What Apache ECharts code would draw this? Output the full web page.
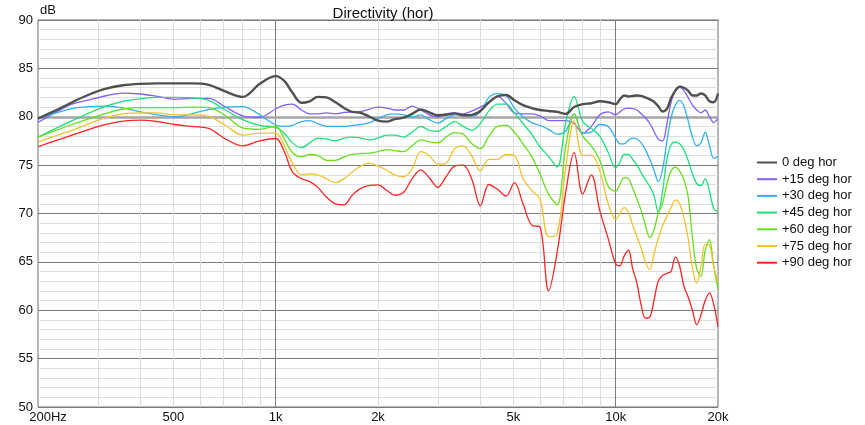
<!DOCTYPE html>
<html><head><meta charset="utf-8">
<script src="https://cdn.jsdelivr.net/npm/echarts@6/dist/echarts.min.js"></script>
<style>html,body{margin:0;padding:0;background:#fff}#c{width:865px;height:425px}</style>
</head><body><div id="c"></div>
<script>
// Frequencies (Hz)
const freqs = [
  200,224,252,283,317,356,400,449,504,566,635,713,800,898,
  1000,1060,1120,1190,1260,1330,1410,1500,1590,1680,1780,1890,2000,2120,2240,2380,2520,2670,2830,3000,3170,3360,3560,3780,4000,4240,4490,4760,5040,5340,5660,5990,6350,6730,7130,7550,8000,8480,8980,9510,
  10000,10290,10590,10910,11220,11550,11890,12230,12600,12960,13340,13730,14140,14550,14980,15420,15870,16330,16820,17310,17820,18340,18880,19430,20000
];
const seriesNames = ['0 deg hor','+15 deg hor','+30 deg hor','+45 deg hor','+60 deg hor','+75 deg hor','+90 deg hor'];
const deg0 = [79.8,80.6,81.5,82.3,82.9,83.25,83.4,83.45,83.45,83.45,83.3,82.6,82.05,83.4,
  84.2,83.7,82.5,81.45,81.6,82.05,82.0,81.5,80.9,80.5,80.4,80.0,79.6,79.5,79.75,79.9,80.3,80.75,80.45,80.15,80.2,80.35,80.15,80.2,80.6,81.5,82.1,82.25,81.7,81.2,80.9,80.7,80.6,80.5,80.3,81.0,81.3,81.4,81.6,81.5,
  81.3,81.8,82.2,82.1,82.15,82.2,82.15,82.0,81.8,81.55,81.1,80.55,80.8,81.9,82.7,83.1,83.0,82.7,82.2,82.2,82.4,82.2,81.6,81.5,82.4];
const deg15 = [79.4,80.4,81.3,81.75,82.17,82.45,82.35,82.1,81.8,81.9,81.9,81.0,80.1,79.95,
  80.8,81.2,81.3,80.7,80.3,80.3,80.4,80.3,80.45,80.5,80.55,80.8,81.0,80.9,80.7,80.7,81.1,80.7,80.2,80.0,80.3,80.4,80.3,80.6,81.0,81.5,82.1,81.4,80.4,80.3,80.3,80.1,79.6,79.6,79.6,79.3,78.3,79.0,80.2,80.5,
  80.2,80.5,80.8,80.9,80.85,80.7,80.3,79.9,79.3,78.5,77.7,77.5,79.2,81.5,82.7,83.1,82.7,82.0,81.2,80.7,80.4,80.7,80.0,79.4,79.8];
const deg30 = [79.8,80.35,80.85,81.05,81.1,80.9,80.5,80.2,80.0,80.3,80.75,81.0,81.05,80.2,
  79.15,79.0,79.1,79.5,79.6,79.3,79.0,79.0,79.0,79.1,79.2,79.4,79.8,80.2,80.3,80.2,80.0,80.2,79.7,79.35,79.8,80.2,80.2,80.05,80.5,82.0,82.4,82.2,80.9,80.0,79.4,79.1,78.7,78.2,78.5,80.3,78.3,78.4,79.2,79.0,
  77.8,77.2,77.2,77.6,77.8,77.7,77.3,76.6,75.6,74.5,73.3,74.5,77.4,79.9,81.2,81.7,81.1,79.6,77.9,77.0,77.3,78.4,77.0,75.7,75.9];
const deg45 = [77.9,78.75,79.6,80.4,81.1,81.6,81.85,82.0,82.0,81.95,81.7,80.7,79.7,79.1,
  78.9,78.3,77.3,76.8,77.3,77.8,77.7,77.5,77.8,77.9,77.8,77.6,77.8,78.1,78.1,77.9,78.4,79.0,78.6,78.5,79.0,79.5,79.0,78.6,79.3,80.6,81.3,81.3,80.4,79.3,78.2,76.9,75.9,74.8,79.4,82.1,79.5,78.8,78.0,76.3,
  74.7,75.3,76.1,76.1,75.6,75.0,74.2,73.5,72.8,71.9,70.1,72.2,75.6,77.1,77.4,77.2,76.6,75.5,74.1,73.1,72.9,73.6,72.3,70.5,70.2];
const deg60 = [77.9,78.55,79.2,79.8,80.35,80.8,80.95,80.95,80.95,81.0,80.95,80.1,78.85,78.7,
  79.0,77.7,76.3,75.85,76.1,76.0,75.5,75.5,75.85,76.1,76.2,76.25,76.4,76.6,76.5,76.4,77.0,77.6,77.4,77.3,77.9,78.35,78.2,77.2,76.7,78.0,79.0,79.1,78.4,77.2,75.9,74.1,72.0,70.9,76.9,80.3,78.0,77.0,75.5,72.8,
  72.3,73.0,73.7,73.6,72.6,71.5,70.3,68.8,67.5,68.3,70.0,71.0,73.0,74.4,74.8,74.4,73.5,71.8,67.5,64.3,63.5,66.2,67.3,64.5,62.2];
const deg75 = [77.4,78.0,78.6,79.3,79.9,80.3,80.4,80.4,80.2,80.2,80.05,79.1,78.1,78.3,
  78.3,77.0,75.2,74.0,74.1,74.0,73.6,73.2,73.6,74.3,74.9,75.2,74.9,74.5,74.0,73.8,74.6,76.4,76.0,75.1,75.2,76.7,77.0,75.9,74.4,75.6,75.6,76.1,76.0,73.6,72.4,71.5,67.6,67.9,74.7,79.6,76.0,76.0,74.4,71.0,
  69.4,70.0,70.6,70.1,68.8,67.6,66.4,65.0,64.2,65.8,67.4,68.7,69.7,70.6,71.4,71.0,69.6,67.5,64.4,62.8,64.5,66.8,66.7,64.5,62.9];
const deg90 = [76.9,77.5,78.1,78.7,79.2,79.55,79.65,79.5,79.2,79.0,78.8,77.7,77.0,77.5,
  77.75,76.4,74.3,73.6,73.3,72.7,71.7,71.0,70.9,71.9,72.6,72.9,72.95,72.4,71.9,72.2,73.6,74.5,73.7,72.7,73.8,74.9,75.0,73.5,70.8,73.0,72.5,71.8,73.2,71.0,68.8,68.6,62.0,66.0,72.2,76.3,72.0,74.0,70.3,67.4,
  64.8,64.6,65.6,66.2,64.3,62.8,60.5,59.2,59.3,61.0,63.0,63.6,63.8,64.0,65.5,64.6,62.5,61.4,60.0,58.5,59.5,61.0,61.8,60.6,58.3];
const seriesValues = [deg0,deg15,deg30,deg45,deg60,deg75,deg90];
const seriesColors = ['#505050','#7f60ff','#33b0ee','#1ee07a','#66e01e','#f2c22e','#ff2424'];

// Axis ticks / labels
const xLabelValues = [200,500,1000,2000,5000,10000,20000];
const xLabelTexts = ['200Hz','500','1k','2k','5k','10k','20k'];
const xMinorGrid = [300,400,500,600,700,800,900,2000,3000,4000,5000,6000,7000,8000,9000];
const xMajorGrid = [1000,10000];
const yMin = 50, yMax = 90;
const refLevel = 80;

const L = v => Math.log10(v);
const font = "'Liberation Sans', Arial, sans-serif";

const chart = echarts.init(document.getElementById('c'), null, {renderer:'canvas'});

const series = [{
  name: '_ref', type: 'line', data: [], silent: true, z: 1,
  markLine: {
    silent: true, symbol: 'none', z: 1, animation: false,
    label: {show: false},
    lineStyle: {color: '#a6a6a6', width: 2.5, type: 'solid'},
    emphasis: {disabled: true},
    data: [{yAxis: refLevel}]
  }
}];
seriesNames.forEach((n, i) => {
  series.push({
    name: n, type: 'line', showSymbol: false, smooth: 0.35,
    xAxisIndex: 0, yAxisIndex: 0,
    color: seriesColors[i],
    z: i === 0 ? 4 : 3,
    lineStyle: {width: i === 0 ? 2.4 : 1.3, color: seriesColors[i]},
    emphasis: {disabled: true},
    data: freqs.map((f, k) => [L(f), seriesValues[i][k]])
  });
});

chart.setOption({
  animation: false,
  backgroundColor: '#ffffff',
  title: {
    text: 'Directivity (hor)', left: 378, top: 1, textAlign: 'center',
    textStyle: {fontFamily: font, fontSize: 15, fontWeight: 'normal', color: '#111'}
  },
  legend: {
    orient: 'vertical', left: 752, top: 151,
    data: seriesNames,
    icon: 'rect', itemWidth: 20, itemHeight: 2, itemGap: 3.7,
    textStyle: {fontFamily: font, fontSize: 13, color: '#111', padding: [0,0,0,0], lineHeight: 13},
    selectedMode: false
  },
  grid: {left: 38, right: 147, top: 20, bottom: 18, show: true, borderColor: '#6e6e6e', borderWidth: 1, containLabel: false},
  xAxis: [{
    type: 'value', min: L(200), max: L(20000), position: 'bottom',
    axisLine: {show: false}, axisTick: {show: false, customValues: xMinorGrid.map(L)},
    axisLabel: {show: false},
    splitLine: {show: true, lineStyle: {color: '#dedede', width: 1}}
  }, {
    type: 'value', min: L(200), max: L(20000), position: 'bottom',
    axisLine: {show: false}, axisTick: {show: false, customValues: xMajorGrid.map(L)},
    axisLabel: {
      show: true, customValues: xLabelValues.map(L), margin: 4,
      fontFamily: font, fontSize: 13, color: '#111',
      formatter: v => {
        let best = 0;
        xLabelValues.forEach((x, i) => { if (Math.abs(L(x) - v) < Math.abs(L(xLabelValues[best]) - v)) best = i; });
        return best === 0 ? '{a|' + xLabelTexts[0] + '}' : xLabelTexts[best];
      },
      rich: {a: {fontFamily: font, fontSize: 13, color: '#111', padding: [0,0,0,20]}}
    },
    splitLine: {show: true, lineStyle: {color: '#7a7a7a', width: 1}}
  }],
  yAxis: [{
    type: 'value', min: yMin, max: yMax, interval: 1, position: 'left',
    axisLine: {show: false}, axisTick: {show: false}, axisLabel: {show: false},
    splitLine: {show: true, lineStyle: {color: '#dedede', width: 1}}
  }, {
    type: 'value', min: yMin, max: yMax, interval: 5, position: 'left',
    name: 'dB', nameLocation: 'end', nameGap: 3,
    nameTextStyle: {fontFamily: font, fontSize: 13, color: '#111', align: 'left', padding: [0,0,0,2]},
    axisLine: {show: false}, axisTick: {show: false},
    axisLabel: {margin: 5, fontFamily: font, fontSize: 13, color: '#111'},
    splitLine: {show: true, lineStyle: {color: '#7a7a7a', width: 1}}
  }],
  series: series
});
</script>
</body></html>
